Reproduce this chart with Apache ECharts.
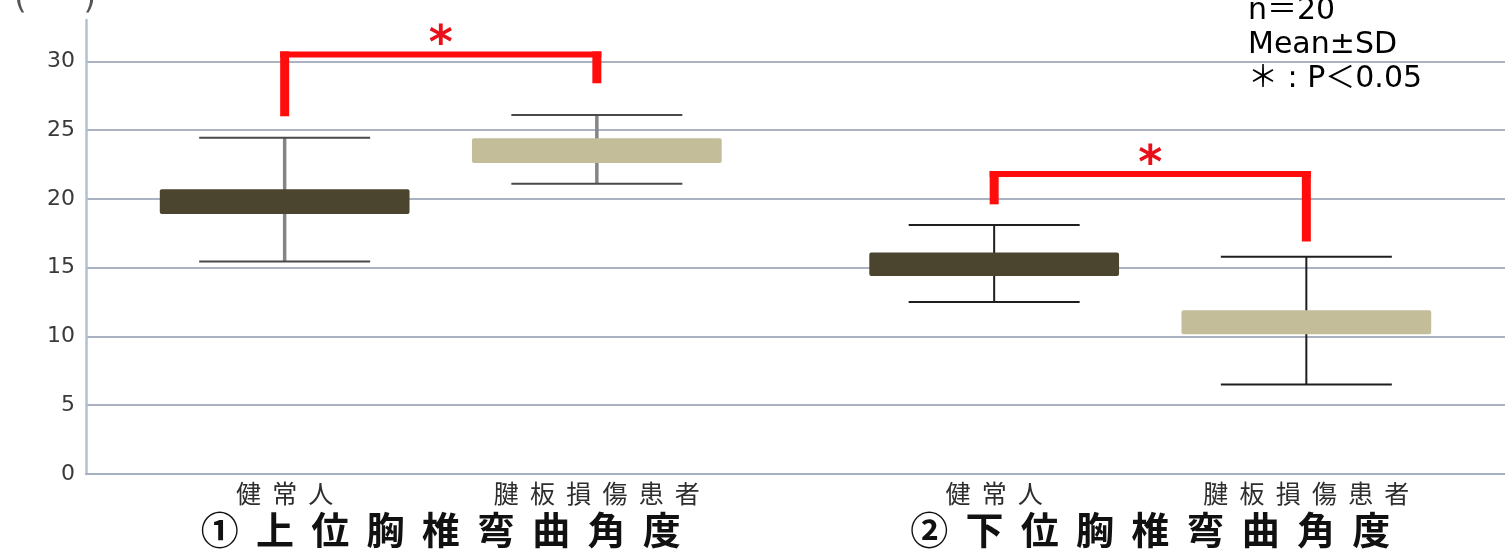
<!DOCTYPE html>
<html>
<head>
<meta charset="utf-8">
<script src="https://cdn.jsdelivr.net/npm/echarts@6/dist/echarts.min.js"></script>
<style>
  html, body { margin: 0; padding: 0; background: #fff; }
  #container { width: 1505px; height: 551px; }
</style>
</head>
<body>
<div id="container"></div>
<script>
// 群（x軸）と対象
const groupNames = ['①上位胸椎弯曲角度', '②下位胸椎弯曲角度']
const subjectNames = ['健常人', '腱板損傷患者']

// 箱 [下端, 上端] とひげ [Mean-SD, Mean+SD]
const healthyBox = [[18.9, 20.7], [14.4, 16.1]]
const healthyRange = [[15.45, 24.45], [12.5, 18.1]]
const patientBox = [[22.6, 24.4], [10.15, 11.9]]
const patientRange = [[21.1, 26.1], [6.5, 15.8]]

// 有意差ブラケット (左端, 上辺, 右端)
const sigLeft = [26.0, 19.6]
const sigTop = [30.5, 21.8]
const sigRight = [28.4, 16.9]
const sigMark = ['*', '*']

// y軸
const yMin = 0
const yMax = 33
const yStep = 5

const noteLines = ['n＝20', 'Mean±SD', '＊ : P＜0.05']

// style
const boxColors = ['#4b4530', '#c4bd99']
const stemColors = ['#858585', '#1e1e1e']
const stemWidths = [3.5, 2]
const capColors = ['#4a4a4a', '#1e1e1e']
const OFFSET = 0.22 // 群の中心からのずれ（バンド幅比）

const spaced = (s, gap) => s.split('').join(gap)

const toData = (box, range) =>
    box.map((b, i) => [i, b[0], b[1], range[i][0], range[i][1]])

const boxItem = (side, color, label) => (params, api) => {
    const g = api.value(0)
    const band = api.size([1, 0])[0]
    const base = api.coord([g, 0])
    const cx = base[0] + side * band * OFFSET
    const y = (v) => api.coord([g, v])[1]
    const bw = band * 0.352
    const cw = band * 0.241
    const top = y(api.value(2))
    const bottom = y(api.value(1))
    const wTop = y(api.value(4))
    const wBot = y(api.value(3))
    const stem = { stroke: stemColors[g], lineWidth: stemWidths[g] }
    const cap = { stroke: capColors[g], lineWidth: 2 }
    return {
        type: 'group',
        children: [
            { type: 'line', shape: { x1: cx, y1: wTop, x2: cx, y2: wBot }, style: stem },
            { type: 'line', shape: { x1: cx - cw / 2, y1: wTop, x2: cx + cw / 2, y2: wTop }, style: cap },
            { type: 'line', shape: { x1: cx - cw / 2, y1: wBot, x2: cx + cw / 2, y2: wBot }, style: cap },
            {
                type: 'rect',
                shape: { x: cx - bw / 2, y: top, width: bw, height: bottom - top, r: 2 },
                style: { fill: color },
            },
            {
                type: 'text',
                x: cx,
                y: base[1] + 7,
                style: {
                    text: spaced(label, '  '),
                    fill: '#2e2e2e',
                    fontSize: 25,
                    fontFamily: '"Noto Sans CJK JP"',
                    align: 'center',
                    verticalAlign: 'top',
                    textAlign: 'center',
                    textVerticalAlign: 'top',
                },
            },
        ],
    }
}

const bracketItem = (params, api) => {
    const g = api.value(0)
    const band = api.size([1, 0])[0]
    const c = api.coord([g, 0])[0]
    const xl = c - band * OFFSET
    const xr = c + band * OFFSET
    const yl = api.coord([g, api.value(1)])[1]
    const yt = api.coord([g, api.value(2)])[1]
    const yr = api.coord([g, api.value(3)])[1]
    const red = '#ff0d0d'
    return {
        type: 'group',
        children: [
            { type: 'line', shape: { x1: xl, y1: yt - 3, x2: xl, y2: yl }, style: { stroke: red, lineWidth: 9 } },
            { type: 'line', shape: { x1: xl - 4.5, y1: yt, x2: xr + 4.5, y2: yt }, style: { stroke: red, lineWidth: 6 } },
            { type: 'line', shape: { x1: xr, y1: yt - 3, x2: xr, y2: yr }, style: { stroke: red, lineWidth: 9 } },
            {
                type: 'text',
                x: (xl + xr) / 2,
                y: yt - 8,
                style: {
                    text: sigMark[g],
                    fill: '#e8101a',
                    fontSize: 46,
                    fontWeight: 'bold',
                    fontFamily: '"DejaVu Sans"',
                    align: 'center',
                    verticalAlign: 'middle',
                    textAlign: 'center',
                    textVerticalAlign: 'middle',
                },
            },
        ],
    }
}

let option = {
    animation: false,
    title: {
        text: noteLines.join('\n'),
        left: 1243,
        top: -11,
        textStyle: {
            fontSize: 30,
            fontWeight: 'normal',
            color: '#000',
            lineHeight: 34,
            fontFamily: '"DejaVu Sans", "Noto Sans CJK JP"',
        },
    },
    grid: {
        left: 86,
        right: 0,
        top: 20,
        bottom: 77,
        containLabel: false,
        outerBoundsMode: 'none',
    },
    xAxis: {
        type: 'category',
        data: groupNames,
        axisTick: { show: false },
        axisLine: { lineStyle: { color: '#a5b0c3', width: 2 } },
        axisLabel: {
            margin: 37,
            fontSize: 38,
            fontWeight: 'bold',
            color: '#111',
            fontFamily: '"Noto Sans CJK JP"',
            formatter: (v) => spaced(v, '  '),
        },
    },
    yAxis: {
        type: 'value',
        min: yMin,
        max: yMax,
        interval: yStep,
        name: '(  °  )',
        nameLocation: 'end',
        nameGap: 4,
        nameTextStyle: {
            fontSize: 32,
            color: '#555',
            align: 'right',
            verticalAlign: 'bottom',
            padding: [0, -10, 0, 0],
            fontFamily: '"DejaVu Sans"',
        },
        axisLine: { show: true, lineStyle: { color: '#b4c0d2', width: 2.5 } },
        axisTick: { show: false },
        axisLabel: {
            margin: 11,
            fontSize: 22,
            color: '#3a3a3a',
            fontFamily: '"DejaVu Sans"',
            showMaxLabel: false,
            formatter: (v) => (v % yStep === 0 ? String(v) : ''),
        },
        splitLine: {
            show: true,
            showMaxLine: false,
            lineStyle: { color: '#8f99ad', width: 1.5 },
        },
    },
    series: [
        {
            name: subjectNames[0],
            type: 'custom',
            renderItem: boxItem(-1, boxColors[0], subjectNames[0]),
            encode: { x: 0, y: [1, 2, 3, 4] },
            data: toData(healthyBox, healthyRange),
            clip: false,
            z: 3,
        },
        {
            name: subjectNames[1],
            type: 'custom',
            renderItem: boxItem(1, boxColors[1], subjectNames[1]),
            encode: { x: 0, y: [1, 2, 3, 4] },
            data: toData(patientBox, patientRange),
            clip: false,
            z: 3,
        },
        {
            name: 'sig',
            type: 'custom',
            renderItem: bracketItem,
            encode: { x: 0, y: [1, 2, 3] },
            data: sigLeft.map((v, i) => [i, v, sigTop[i], sigRight[i]]),
            clip: false,
            z: 4,
        },
    ],
}

let myChart = echarts.init(document.getElementById('container'))
option && myChart.setOption(option)
window.addEventListener('resize', myChart.resize)
</script>
</body>
</html>
